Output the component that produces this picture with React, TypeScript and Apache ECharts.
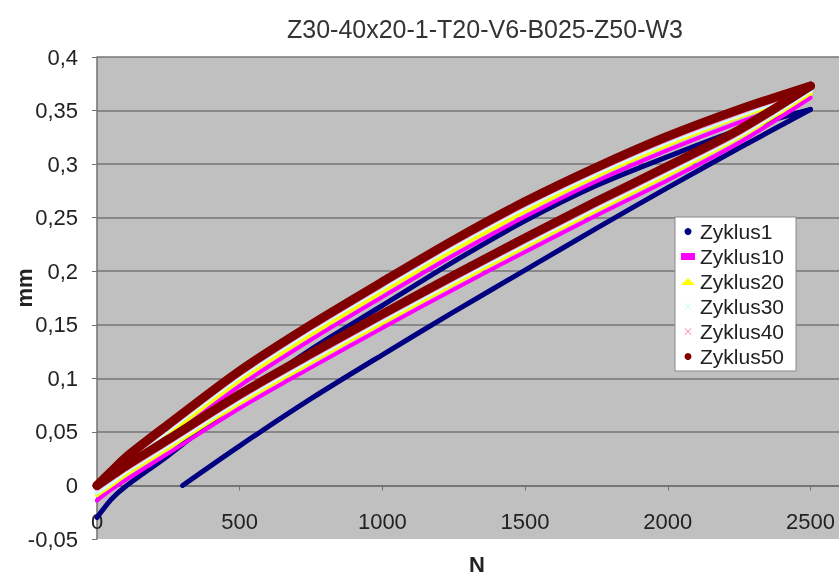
import React, { useEffect, useRef } from 'react';
import * as echarts from 'echarts';

const TITLE = 'Z30-40x20-1-T20-V6-B025-Z50-W3';
const X_NAME = 'N';
const Y_NAME = 'mm';
const CYCLES = ['Zyklus1', 'Zyklus10', 'Zyklus20', 'Zyklus30', 'Zyklus40', 'Zyklus50'];
const COLORS = ['#000080', '#ff00ff', '#ffff00', '#ccffff', '#ff99cc', '#800000'];
const WIDTHS = [5, 4, 4, 5, 5, 9];
const ICONS = [
  'circle',
  'rect',
  'triangle',
  'path://M0,1L1,0L5,4L9,0L10,1L6,5L10,9L9,10L5,6L1,10L0,9L4,5Z',
  'path://M0,1L1,0L5,4L9,0L10,1L6,5L10,9L9,10L5,6L1,10L0,9L4,5Z',
  'circle',
];

// Force N (x) sample positions shared by the loops
const N_GRID = [0, 50, 100, 250, 500, 750, 1000, 1250, 1500, 1750, 2000, 2250, 2500];
// Zyklus1 loading starts at a pre-load of ~300 N
const N_Z1_LOAD = [300, 500, 750, 1000, 1250, 1500, 1750, 2000, 2250, 2500];
const Z1_LOAD = [0.0, 0.037, 0.081, 0.122, 0.162, 0.201, 0.24, 0.278, 0.315, 0.351];
const Z1_UNLOAD = [-0.03, -0.013, -0.001, 0.028, 0.08, 0.127, 0.168, 0.209, 0.247, 0.28, 0.307, 0.332, 0.351];

const Z10_LOAD = [-0.014, -0.004, 0.005, 0.03, 0.072, 0.11, 0.147, 0.183, 0.218, 0.252, 0.285, 0.32, 0.362];
const Z10_UNLOAD = [-0.014, 0.0, 0.012, 0.043, 0.093, 0.136, 0.176, 0.215, 0.251, 0.284, 0.313, 0.339, 0.362];

const Z20_LOAD = [-0.009, 0.0, 0.01, 0.035, 0.077, 0.115, 0.152, 0.188, 0.223, 0.257, 0.29, 0.325, 0.366];
const Z20_UNLOAD = [-0.009, 0.005, 0.017, 0.048, 0.098, 0.141, 0.181, 0.22, 0.256, 0.289, 0.318, 0.344, 0.366];

const Z30_LOAD = [-0.006, 0.003, 0.013, 0.038, 0.08, 0.118, 0.155, 0.191, 0.226, 0.26, 0.293, 0.327, 0.369];
const Z30_UNLOAD = [-0.006, 0.008, 0.02, 0.052, 0.102, 0.145, 0.185, 0.224, 0.26, 0.292, 0.321, 0.346, 0.369];

const Z40_LOAD = [-0.003, 0.006, 0.015, 0.04, 0.082, 0.12, 0.157, 0.193, 0.228, 0.262, 0.295, 0.329, 0.371];
const Z40_UNLOAD = [-0.003, 0.011, 0.023, 0.054, 0.104, 0.147, 0.187, 0.226, 0.262, 0.294, 0.323, 0.348, 0.371];

const Z50_LOAD = [0.0, 0.009, 0.018, 0.043, 0.085, 0.123, 0.16, 0.196, 0.231, 0.265, 0.298, 0.332, 0.373];
const Z50_UNLOAD = [0.0, 0.013, 0.026, 0.057, 0.107, 0.15, 0.19, 0.229, 0.265, 0.297, 0.326, 0.351, 0.373];

const BRANCHES: { n: number[]; v: number[] }[][] = [
  [{ n: N_Z1_LOAD, v: Z1_LOAD }, { n: N_GRID, v: Z1_UNLOAD }],
  [{ n: N_GRID, v: Z10_LOAD }, { n: N_GRID, v: Z10_UNLOAD }],
  [{ n: N_GRID, v: Z20_LOAD }, { n: N_GRID, v: Z20_UNLOAD }],
  [{ n: N_GRID, v: Z30_LOAD }, { n: N_GRID, v: Z30_UNLOAD }],
  [{ n: N_GRID, v: Z40_LOAD }, { n: N_GRID, v: Z40_UNLOAD }],
  [{ n: N_GRID, v: Z50_LOAD }, { n: N_GRID, v: Z50_UNLOAD }],
];

const FONT = '"Liberation Sans", Arial, sans-serif';

export default function App() {
  const ref = useRef<HTMLDivElement>(null);
  useEffect(() => {
    if (!ref.current) return;
    const chart = echarts.init(ref.current, undefined, { renderer: 'svg' });
    const series: any[] = [];
    CYCLES.forEach((name, i) => {
      BRANCHES[i].forEach((b) => {
        series.push({
          name,
          type: 'line',
          data: b.n.map((n, k) => [n, b.v[k]]),
          showSymbol: false,
          symbol: 'none',
          smooth: 0.3,
          itemStyle: { color: COLORS[i] },
          lineStyle: { color: COLORS[i], width: WIDTHS[i], cap: 'round', join: 'round' },
          emphasis: { disabled: true },
        });
      });
    });
    chart.setOption({
      animation: false,
      textStyle: { fontFamily: FONT },
      title: {
        text: TITLE,
        left: 282,
        top: 11,
        textStyle: { fontSize: 25, fontWeight: 'normal', color: '#333', fontFamily: FONT },
      },
      grid: {
        left: 97,
        right: 0,
        top: 57,
        bottom: 37,
        containLabel: false,
        outerBoundsMode: 'none',
        show: true,
        backgroundColor: '#c0c0c0',
        borderWidth: 0,
      },
      legend: {
        orient: 'vertical',
        left: 675,
        top: 217,
        padding: [4, 12, 4, 6],
        itemGap: 4,
        itemWidth: 14,
        itemHeight: 7,
        backgroundColor: '#ffffff',
        borderColor: '#888888',
        borderWidth: 1,
        borderRadius: 0,
        selectedMode: false,
        textStyle: { fontSize: 21, color: '#222', fontFamily: FONT },
        data: CYCLES.map((name, i) => ({ name, icon: ICONS[i] })),
      },
      xAxis: {
        type: 'value',
        min: 0,
        max: 2600,
        interval: 500,
        name: X_NAME,
        nameLocation: 'middle',
        nameGap: 14,
        nameMoveOverlap: false,
        nameTextStyle: { fontSize: 22, fontWeight: 'bold', color: '#222', fontFamily: FONT, padding: [0, 0, 0, 18] },
        axisLine: { show: true, onZero: true, lineStyle: { color: '#707070', width: 1.5 } },
        axisTick: { show: true, length: 5, lineStyle: { color: '#707070' } },
        axisLabel: {
          margin: -29,
          fontSize: 22,
          color: '#222',
          fontFamily: FONT,
          showMaxLabel: false,
          formatter: (v: number) => (v % 500 === 0 ? String(v) : ''),
        },
        splitLine: { show: false },
      },
      yAxis: {
        type: 'value',
        min: -0.05,
        max: 0.4,
        interval: 0.05,
        name: Y_NAME,
        nameLocation: 'middle',
        nameGap: 62,
        nameMoveOverlap: false,
        nameTextStyle: { fontSize: 22, fontWeight: 'bold', color: '#222', fontFamily: FONT, padding: [0, 0, 0, 20] },
        axisLine: { show: true, onZero: false, lineStyle: { color: '#707070', width: 1.5 } },
        axisTick: { show: true, length: 5, lineStyle: { color: '#707070' } },
        axisLabel: {
          margin: 19,
          fontSize: 22,
          color: '#222',
          fontFamily: FONT,
          formatter: (v: number) => String(Number(v.toFixed(2))).replace('.', ','),
        },
        splitLine: { show: true, showMinLine: false, lineStyle: { color: '#767676', width: 1.5 } },
      },
      series,
    });
    return () => chart.dispose();
  }, []);
  return <div ref={ref} style={{ position: 'fixed', left: 0, top: 0, width: 839, height: 576 }} />;
}
